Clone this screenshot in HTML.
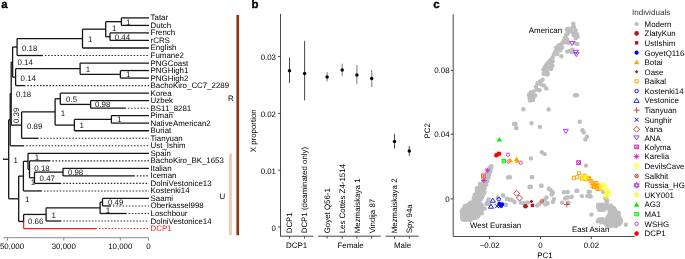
<!DOCTYPE html>
<html><head><meta charset="utf-8"><style>
html,body{margin:0;padding:0;background:#fff;}
body{width:685px;height:259px;overflow:hidden;}
svg{display:block;will-change:transform;text-rendering:geometricPrecision;font-family:"Liberation Sans",sans-serif;}
</style></head><body>
<svg width="685" height="259" viewBox="0 0 685 259">
<rect width="685" height="259" fill="#fff"/>
<line x1="121.40" y1="17.90" x2="149.00" y2="17.90" stroke="#151515" stroke-width="1.3"/>
<text x="150.60" y="20.38" font-size="7.9" fill="#000" text-anchor="start" font-weight="normal" >Tatar</text>
<line x1="121.40" y1="25.42" x2="149.00" y2="25.42" stroke="#151515" stroke-width="1.3"/>
<text x="150.60" y="27.90" font-size="7.9" fill="#000" text-anchor="start" font-weight="normal" >Dutch</text>
<line x1="110.00" y1="32.95" x2="149.00" y2="32.95" stroke="#151515" stroke-width="1.3"/>
<text x="150.60" y="35.43" font-size="7.9" fill="#000" text-anchor="start" font-weight="normal" >French</text>
<line x1="110.00" y1="40.47" x2="149.00" y2="40.47" stroke="#151515" stroke-width="1.3"/>
<text x="150.60" y="42.95" font-size="7.9" fill="#000" text-anchor="start" font-weight="normal" >rCRS</text>
<line x1="82.50" y1="47.99" x2="149.00" y2="47.99" stroke="#151515" stroke-width="1.3"/>
<text x="150.60" y="50.47" font-size="7.9" fill="#000" text-anchor="start" font-weight="normal" >English</text>
<line x1="17.10" y1="55.51" x2="42.90" y2="55.51" stroke="#151515" stroke-width="1.3"/>
<line x1="44.90" y1="55.51" x2="149.00" y2="55.51" stroke="#2a2a2a" stroke-width="1.1" stroke-dasharray="1.5 1.67"/>
<text x="150.60" y="57.99" font-size="7.9" fill="#000" text-anchor="start" font-weight="normal" >Fumane2</text>
<line x1="80.10" y1="63.04" x2="149.00" y2="63.04" stroke="#151515" stroke-width="1.3"/>
<text x="150.60" y="65.52" font-size="7.9" fill="#000" text-anchor="start" font-weight="normal" >PNGCoast</text>
<line x1="120.40" y1="70.56" x2="149.00" y2="70.56" stroke="#151515" stroke-width="1.3"/>
<text x="150.60" y="73.04" font-size="7.9" fill="#000" text-anchor="start" font-weight="normal" >PNGHigh1</text>
<line x1="120.40" y1="78.08" x2="149.00" y2="78.08" stroke="#151515" stroke-width="1.3"/>
<text x="150.60" y="80.56" font-size="7.9" fill="#000" text-anchor="start" font-weight="normal" >PNGHigh2</text>
<line x1="15.60" y1="85.61" x2="25.30" y2="85.61" stroke="#151515" stroke-width="1.3"/>
<line x1="27.30" y1="85.61" x2="149.00" y2="85.61" stroke="#2a2a2a" stroke-width="1.1" stroke-dasharray="1.5 1.67"/>
<text x="150.60" y="88.09" font-size="7.9" fill="#000" text-anchor="start" font-weight="normal" >BachoKiro_CC7_2289</text>
<line x1="60.30" y1="93.13" x2="149.00" y2="93.13" stroke="#151515" stroke-width="1.3"/>
<text x="150.60" y="95.61" font-size="7.9" fill="#000" text-anchor="start" font-weight="normal" >Korea</text>
<line x1="90.60" y1="100.65" x2="149.00" y2="100.65" stroke="#151515" stroke-width="1.3"/>
<text x="150.60" y="103.13" font-size="7.9" fill="#000" text-anchor="start" font-weight="normal" >Uzbek</text>
<line x1="90.60" y1="108.18" x2="125.90" y2="108.18" stroke="#151515" stroke-width="1.3"/>
<line x1="127.90" y1="108.18" x2="149.00" y2="108.18" stroke="#2a2a2a" stroke-width="1.1" stroke-dasharray="1.5 1.67"/>
<text x="150.60" y="110.66" font-size="7.9" fill="#000" text-anchor="start" font-weight="normal" >BS11_8281</text>
<line x1="111.40" y1="115.70" x2="149.00" y2="115.70" stroke="#151515" stroke-width="1.3"/>
<text x="150.60" y="118.18" font-size="7.9" fill="#000" text-anchor="start" font-weight="normal" >Piman</text>
<line x1="111.40" y1="123.22" x2="149.00" y2="123.22" stroke="#151515" stroke-width="1.3"/>
<text x="150.60" y="125.70" font-size="7.9" fill="#000" text-anchor="start" font-weight="normal" >NativeAmerican2</text>
<line x1="74.40" y1="130.75" x2="149.00" y2="130.75" stroke="#151515" stroke-width="1.3"/>
<text x="150.60" y="133.22" font-size="7.9" fill="#000" text-anchor="start" font-weight="normal" >Buriat</text>
<line x1="21.60" y1="138.27" x2="38.60" y2="138.27" stroke="#151515" stroke-width="1.3"/>
<line x1="40.60" y1="138.27" x2="149.00" y2="138.27" stroke="#2a2a2a" stroke-width="1.1" stroke-dasharray="1.5 1.67"/>
<text x="150.60" y="140.75" font-size="7.9" fill="#000" text-anchor="start" font-weight="normal" >Tianyuan</text>
<line x1="10.20" y1="145.79" x2="24.20" y2="145.79" stroke="#151515" stroke-width="1.3"/>
<line x1="26.20" y1="145.79" x2="149.00" y2="145.79" stroke="#2a2a2a" stroke-width="1.1" stroke-dasharray="1.5 1.67"/>
<text x="150.60" y="148.27" font-size="7.9" fill="#000" text-anchor="start" font-weight="normal" >Ust_Ishim</text>
<line x1="28.00" y1="153.31" x2="149.00" y2="153.31" stroke="#151515" stroke-width="1.3"/>
<text x="150.60" y="155.79" font-size="7.9" fill="#000" text-anchor="start" font-weight="normal" >Spain</text>
<line x1="29.50" y1="160.84" x2="50.40" y2="160.84" stroke="#151515" stroke-width="1.3"/>
<line x1="52.40" y1="160.84" x2="149.00" y2="160.84" stroke="#2a2a2a" stroke-width="1.1" stroke-dasharray="1.5 1.67"/>
<text x="150.60" y="163.32" font-size="7.9" fill="#000" text-anchor="start" font-weight="normal" >BachoKiro_BK_1653</text>
<line x1="63.00" y1="168.36" x2="149.00" y2="168.36" stroke="#151515" stroke-width="1.3"/>
<text x="150.60" y="170.84" font-size="7.9" fill="#000" text-anchor="start" font-weight="normal" >Italian</text>
<line x1="63.00" y1="175.88" x2="134.80" y2="175.88" stroke="#151515" stroke-width="1.3"/>
<line x1="136.80" y1="175.88" x2="149.00" y2="175.88" stroke="#2a2a2a" stroke-width="1.1" stroke-dasharray="1.5 1.67"/>
<text x="150.60" y="178.36" font-size="7.9" fill="#000" text-anchor="start" font-weight="normal" >Iceman</text>
<line x1="34.50" y1="183.41" x2="61.20" y2="183.41" stroke="#151515" stroke-width="1.3"/>
<line x1="63.20" y1="183.41" x2="149.00" y2="183.41" stroke="#2a2a2a" stroke-width="1.1" stroke-dasharray="1.5 1.67"/>
<text x="150.60" y="185.89" font-size="7.9" fill="#000" text-anchor="start" font-weight="normal" >DolniVestonice13</text>
<line x1="23.40" y1="190.93" x2="41.90" y2="190.93" stroke="#151515" stroke-width="1.3"/>
<line x1="43.90" y1="190.93" x2="149.00" y2="190.93" stroke="#2a2a2a" stroke-width="1.1" stroke-dasharray="1.5 1.67"/>
<text x="150.60" y="193.41" font-size="7.9" fill="#000" text-anchor="start" font-weight="normal" >Kostenki14</text>
<line x1="102.50" y1="198.45" x2="149.00" y2="198.45" stroke="#151515" stroke-width="1.3"/>
<text x="150.60" y="200.93" font-size="7.9" fill="#000" text-anchor="start" font-weight="normal" >Saami</text>
<line x1="102.50" y1="205.97" x2="111.00" y2="205.97" stroke="#151515" stroke-width="1.3"/>
<line x1="113.00" y1="205.97" x2="149.00" y2="205.97" stroke="#2a2a2a" stroke-width="1.1" stroke-dasharray="1.5 1.67"/>
<text x="150.60" y="208.45" font-size="7.9" fill="#000" text-anchor="start" font-weight="normal" >Oberkassel998</text>
<line x1="100.10" y1="213.50" x2="126.70" y2="213.50" stroke="#151515" stroke-width="1.3"/>
<line x1="128.70" y1="213.50" x2="149.00" y2="213.50" stroke="#2a2a2a" stroke-width="1.1" stroke-dasharray="1.5 1.67"/>
<text x="150.60" y="215.98" font-size="7.9" fill="#000" text-anchor="start" font-weight="normal" >Loschbour</text>
<line x1="46.10" y1="221.02" x2="61.40" y2="221.02" stroke="#151515" stroke-width="1.3"/>
<line x1="63.40" y1="221.02" x2="149.00" y2="221.02" stroke="#2a2a2a" stroke-width="1.1" stroke-dasharray="1.5 1.67"/>
<text x="150.60" y="223.50" font-size="7.9" fill="#000" text-anchor="start" font-weight="normal" >DolniVestonice14</text>
<line x1="23.60" y1="228.54" x2="96.90" y2="228.54" stroke="#f42020" stroke-width="1.3"/>
<line x1="98.90" y1="228.54" x2="149.00" y2="228.54" stroke="#f42020" stroke-width="1.1" stroke-dasharray="1.5 1.67"/>
<text x="150.60" y="231.02" font-size="7.9" fill="#f42020" text-anchor="start" font-weight="normal" >DCP1</text>
<line x1="121.40" y1="17.90" x2="121.40" y2="25.42" stroke="#151515" stroke-width="1.3"/>
<line x1="105.70" y1="21.66" x2="121.40" y2="21.66" stroke="#151515" stroke-width="1.3"/>
<line x1="110.00" y1="32.95" x2="110.00" y2="40.47" stroke="#151515" stroke-width="1.3"/>
<line x1="105.70" y1="36.71" x2="110.00" y2="36.71" stroke="#151515" stroke-width="1.3"/>
<line x1="105.70" y1="21.66" x2="105.70" y2="36.71" stroke="#151515" stroke-width="1.3"/>
<line x1="82.50" y1="29.18" x2="105.70" y2="29.18" stroke="#151515" stroke-width="1.3"/>
<line x1="82.50" y1="29.18" x2="82.50" y2="47.99" stroke="#151515" stroke-width="1.3"/>
<line x1="17.10" y1="38.59" x2="82.50" y2="38.59" stroke="#151515" stroke-width="1.3"/>
<line x1="17.10" y1="38.59" x2="17.10" y2="55.51" stroke="#151515" stroke-width="1.3"/>
<line x1="12.60" y1="47.05" x2="17.10" y2="47.05" stroke="#151515" stroke-width="1.3"/>
<line x1="120.40" y1="70.56" x2="120.40" y2="78.08" stroke="#151515" stroke-width="1.3"/>
<line x1="80.10" y1="74.32" x2="120.40" y2="74.32" stroke="#151515" stroke-width="1.3"/>
<line x1="80.10" y1="63.04" x2="80.10" y2="74.32" stroke="#151515" stroke-width="1.3"/>
<line x1="15.60" y1="68.68" x2="80.10" y2="68.68" stroke="#151515" stroke-width="1.3"/>
<line x1="15.60" y1="68.68" x2="15.60" y2="85.61" stroke="#151515" stroke-width="1.3"/>
<line x1="12.60" y1="77.14" x2="15.60" y2="77.14" stroke="#151515" stroke-width="1.3"/>
<line x1="12.60" y1="47.05" x2="12.60" y2="77.14" stroke="#151515" stroke-width="1.3"/>
<line x1="11.20" y1="62.10" x2="12.60" y2="62.10" stroke="#151515" stroke-width="1.3"/>
<line x1="90.60" y1="100.65" x2="90.60" y2="108.18" stroke="#151515" stroke-width="1.3"/>
<line x1="60.30" y1="104.41" x2="90.60" y2="104.41" stroke="#151515" stroke-width="1.3"/>
<line x1="60.30" y1="93.13" x2="60.30" y2="104.41" stroke="#151515" stroke-width="1.3"/>
<line x1="55.10" y1="98.77" x2="60.30" y2="98.77" stroke="#151515" stroke-width="1.3"/>
<line x1="111.40" y1="115.70" x2="111.40" y2="123.22" stroke="#151515" stroke-width="1.3"/>
<line x1="74.40" y1="119.46" x2="111.40" y2="119.46" stroke="#151515" stroke-width="1.3"/>
<line x1="74.40" y1="119.46" x2="74.40" y2="130.75" stroke="#151515" stroke-width="1.3"/>
<line x1="55.10" y1="125.10" x2="74.40" y2="125.10" stroke="#151515" stroke-width="1.3"/>
<line x1="55.10" y1="98.77" x2="55.10" y2="125.10" stroke="#151515" stroke-width="1.3"/>
<line x1="21.60" y1="111.94" x2="55.10" y2="111.94" stroke="#151515" stroke-width="1.3"/>
<line x1="21.60" y1="111.94" x2="21.60" y2="138.27" stroke="#151515" stroke-width="1.3"/>
<line x1="11.20" y1="125.10" x2="21.60" y2="125.10" stroke="#151515" stroke-width="1.3"/>
<line x1="11.20" y1="62.10" x2="11.20" y2="125.10" stroke="#151515" stroke-width="1.3"/>
<line x1="10.20" y1="93.60" x2="11.20" y2="93.60" stroke="#151515" stroke-width="1.3"/>
<line x1="10.20" y1="93.60" x2="10.20" y2="145.79" stroke="#151515" stroke-width="1.3"/>
<line x1="8.70" y1="119.70" x2="10.20" y2="119.70" stroke="#151515" stroke-width="1.3"/>
<line x1="63.00" y1="168.36" x2="63.00" y2="175.88" stroke="#151515" stroke-width="1.3"/>
<line x1="34.50" y1="172.12" x2="63.00" y2="172.12" stroke="#151515" stroke-width="1.3"/>
<line x1="34.50" y1="172.12" x2="34.50" y2="183.41" stroke="#151515" stroke-width="1.3"/>
<line x1="29.50" y1="177.76" x2="34.50" y2="177.76" stroke="#151515" stroke-width="1.3"/>
<line x1="29.50" y1="160.84" x2="29.50" y2="177.76" stroke="#151515" stroke-width="1.3"/>
<line x1="28.00" y1="169.30" x2="29.50" y2="169.30" stroke="#151515" stroke-width="1.3"/>
<line x1="28.00" y1="153.31" x2="28.00" y2="169.30" stroke="#151515" stroke-width="1.3"/>
<line x1="23.40" y1="161.31" x2="28.00" y2="161.31" stroke="#151515" stroke-width="1.3"/>
<line x1="23.40" y1="161.31" x2="23.40" y2="190.93" stroke="#151515" stroke-width="1.3"/>
<line x1="18.70" y1="176.12" x2="23.40" y2="176.12" stroke="#151515" stroke-width="1.3"/>
<line x1="102.50" y1="198.45" x2="102.50" y2="205.97" stroke="#151515" stroke-width="1.3"/>
<line x1="100.10" y1="202.21" x2="102.50" y2="202.21" stroke="#151515" stroke-width="1.3"/>
<line x1="100.10" y1="202.21" x2="100.10" y2="213.50" stroke="#151515" stroke-width="1.3"/>
<line x1="46.10" y1="207.86" x2="100.10" y2="207.86" stroke="#151515" stroke-width="1.3"/>
<line x1="46.10" y1="207.86" x2="46.10" y2="221.02" stroke="#151515" stroke-width="1.3"/>
<line x1="23.60" y1="214.44" x2="46.10" y2="214.44" stroke="#151515" stroke-width="1.3"/>
<line x1="23.60" y1="214.44" x2="23.60" y2="221.49" stroke="#151515" stroke-width="1.3"/>
<line x1="23.60" y1="221.49" x2="23.60" y2="228.54" stroke="#f42020" stroke-width="1.3"/>
<line x1="18.70" y1="221.49" x2="23.60" y2="221.49" stroke="#151515" stroke-width="1.3"/>
<line x1="18.70" y1="176.12" x2="18.70" y2="221.49" stroke="#151515" stroke-width="1.3"/>
<line x1="8.70" y1="198.80" x2="18.70" y2="198.80" stroke="#151515" stroke-width="1.3"/>
<line x1="8.70" y1="119.70" x2="8.70" y2="198.80" stroke="#151515" stroke-width="1.3"/>
<line x1="2.90" y1="159.25" x2="8.70" y2="159.25" stroke="#151515" stroke-width="1.3"/>
<text x="126.00" y="24.78" font-size="7.9" fill="#111" text-anchor="start" font-weight="normal" >1</text>
<text x="112.00" y="30.78" font-size="7.9" fill="#111" text-anchor="start" font-weight="normal" >1</text>
<text x="114.70" y="39.68" font-size="7.9" fill="#111" text-anchor="start" font-weight="normal" >0.44</text>
<text x="87.90" y="42.08" font-size="7.9" fill="#111" text-anchor="start" font-weight="normal" >1</text>
<text x="22.00" y="50.58" font-size="7.9" fill="#111" text-anchor="start" font-weight="normal" >0.18</text>
<text x="17.50" y="65.28" font-size="7.9" fill="#111" text-anchor="start" font-weight="normal" >0.14</text>
<text x="85.70" y="72.08" font-size="7.9" fill="#111" text-anchor="start" font-weight="normal" >1</text>
<text x="126.00" y="77.18" font-size="7.9" fill="#111" text-anchor="start" font-weight="normal" >1</text>
<text x="20.60" y="80.68" font-size="7.9" fill="#111" text-anchor="start" font-weight="normal" >0.14</text>
<text x="15.90" y="97.38" font-size="7.9" fill="#111" text-anchor="start" font-weight="normal" >0.18</text>
<text x="66.10" y="101.68" font-size="7.9" fill="#111" text-anchor="start" font-weight="normal" >0.5</text>
<text x="95.00" y="107.08" font-size="7.9" fill="#111" text-anchor="start" font-weight="normal" >0.98</text>
<text x="60.80" y="115.78" font-size="7.9" fill="#111" text-anchor="start" font-weight="normal" >1</text>
<text x="117.20" y="122.48" font-size="7.9" fill="#111" text-anchor="start" font-weight="normal" >1</text>
<text x="79.60" y="128.28" font-size="7.9" fill="#111" text-anchor="start" font-weight="normal" >1</text>
<text x="27.00" y="128.78" font-size="7.9" fill="#111" text-anchor="start" font-weight="normal" >0.89</text>
<text x="13.50" y="162.78" font-size="7.9" fill="#111" text-anchor="start" font-weight="normal" >1</text>
<text x="34.70" y="160.08" font-size="7.9" fill="#111" text-anchor="start" font-weight="normal" >1</text>
<text x="34.30" y="171.28" font-size="7.9" fill="#111" text-anchor="start" font-weight="normal" >0.18</text>
<text x="67.90" y="174.78" font-size="7.9" fill="#111" text-anchor="start" font-weight="normal" >0.98</text>
<text x="39.60" y="180.98" font-size="7.9" fill="#111" text-anchor="start" font-weight="normal" >0.47</text>
<text x="30.80" y="185.18" font-size="7.9" fill="#111" text-anchor="start" font-weight="normal" >1</text>
<text x="25.10" y="202.28" font-size="7.9" fill="#111" text-anchor="start" font-weight="normal" >1</text>
<text x="108.00" y="205.08" font-size="7.9" fill="#111" text-anchor="start" font-weight="normal" >0.49</text>
<text x="105.70" y="212.88" font-size="7.9" fill="#111" text-anchor="start" font-weight="normal" >1</text>
<text x="51.40" y="218.18" font-size="7.9" fill="#111" text-anchor="start" font-weight="normal" >1</text>
<text x="28.00" y="224.48" font-size="7.9" fill="#111" text-anchor="start" font-weight="normal" >0.66</text>
<text x="0" y="0" font-size="7.9" fill="#111" text-anchor="middle" transform="translate(19.18,115.3) rotate(-90)">0.39</text>
<rect x="236.4" y="14.9" width="2.7" height="220.3" fill="#8a3a0e"/>
<rect x="229.1" y="153.7" width="2.7" height="81.5" fill="#f6c6a8"/>
<text x="228.00" y="100.58" font-size="7.9" fill="#000" text-anchor="start" font-weight="normal" >R</text>
<text x="219.50" y="198.88" font-size="7.9" fill="#000" text-anchor="start" font-weight="normal" >U</text>
<line x1="3.3" y1="237.7" x2="148.7" y2="237.7" stroke="#8a8a8a" stroke-width="1"/>
<line x1="7.5" y1="237.7" x2="7.5" y2="240.6" stroke="#8a8a8a" stroke-width="1"/>
<line x1="63.8" y1="237.7" x2="63.8" y2="240.6" stroke="#8a8a8a" stroke-width="1"/>
<line x1="120.3" y1="237.7" x2="120.3" y2="240.6" stroke="#8a8a8a" stroke-width="1"/>
<line x1="148.5" y1="237.7" x2="148.5" y2="240.6" stroke="#8a8a8a" stroke-width="1"/>
<text x="12.00" y="249.28" font-size="7.9" fill="#000" text-anchor="middle" font-weight="normal" >50,000</text>
<text x="63.80" y="249.28" font-size="7.9" fill="#000" text-anchor="middle" font-weight="normal" >30,000</text>
<text x="120.30" y="249.28" font-size="7.9" fill="#000" text-anchor="middle" font-weight="normal" >10,000</text>
<text x="148.50" y="249.28" font-size="7.9" fill="#000" text-anchor="middle" font-weight="normal" >0</text>
<text x="1.3" y="7.8" font-size="11.5" font-weight="bold" fill="#000" stroke="#000" stroke-width="0.35">a</text>
<text x="251.5" y="7.8" font-size="11.5" font-weight="bold" fill="#000" stroke="#000" stroke-width="0.35">b</text>
<line x1="280.5" y1="13.9" x2="280.5" y2="236.2" stroke="#333" stroke-width="0.9"/>
<line x1="278.0" y1="56.60" x2="280.5" y2="56.60" stroke="#333" stroke-width="0.9"/>
<text x="276.00" y="60.18" font-size="7.9" fill="#000" text-anchor="end" font-weight="normal" >0.03</text>
<line x1="278.0" y1="113.40" x2="280.5" y2="113.40" stroke="#333" stroke-width="0.9"/>
<text x="276.00" y="116.98" font-size="7.9" fill="#000" text-anchor="end" font-weight="normal" >0.02</text>
<line x1="278.0" y1="170.20" x2="280.5" y2="170.20" stroke="#333" stroke-width="0.9"/>
<text x="276.00" y="173.78" font-size="7.9" fill="#000" text-anchor="end" font-weight="normal" >0.01</text>
<line x1="278.0" y1="227.00" x2="280.5" y2="227.00" stroke="#333" stroke-width="0.9"/>
<text x="276.00" y="230.58" font-size="7.9" fill="#000" text-anchor="end" font-weight="normal" >0</text>
<text x="0" y="0" font-size="7.9" fill="#000" text-anchor="middle" transform="translate(256.38,130.8) rotate(-90)">X proportion</text>
<line x1="289.5" y1="57.6" x2="289.5" y2="83.0" stroke="#333" stroke-width="0.9"/>
<circle cx="289.5" cy="70.7" r="1.75" fill="#0a0a0a"/>
<line x1="304.6" y1="40.9" x2="304.6" y2="100.4" stroke="#333" stroke-width="0.9"/>
<circle cx="304.6" cy="73.5" r="1.75" fill="#0a0a0a"/>
<line x1="327.1" y1="72.0" x2="327.1" y2="81.6" stroke="#999" stroke-width="1.3"/>
<circle cx="327.1" cy="77.0" r="1.75" fill="#0a0a0a"/>
<line x1="342.2" y1="63.7" x2="342.2" y2="76.2" stroke="#999" stroke-width="1.3"/>
<circle cx="342.2" cy="70.1" r="1.75" fill="#0a0a0a"/>
<line x1="356.9" y1="65.0" x2="356.9" y2="84.3" stroke="#999" stroke-width="1.3"/>
<circle cx="356.9" cy="74.9" r="1.75" fill="#0a0a0a"/>
<line x1="371.7" y1="69.9" x2="371.7" y2="86.9" stroke="#999" stroke-width="1.3"/>
<circle cx="371.7" cy="78.6" r="1.75" fill="#0a0a0a"/>
<line x1="394.5" y1="133.9" x2="394.5" y2="148.6" stroke="#333" stroke-width="0.9"/>
<circle cx="394.5" cy="141.6" r="1.75" fill="#0a0a0a"/>
<line x1="409.3" y1="146.1" x2="409.3" y2="155.7" stroke="#333" stroke-width="0.9"/>
<circle cx="409.3" cy="150.9" r="1.75" fill="#0a0a0a"/>
<text x="0" y="0" font-size="7.9" fill="#000" text-anchor="start" transform="translate(292.38,233.3) rotate(-90)">DCP1</text>
<text x="0" y="0" font-size="7.9" fill="#000" text-anchor="start" transform="translate(307.48,233.3) rotate(-90)">DCP1 (deaminated only)</text>
<text x="0" y="0" font-size="7.9" fill="#000" text-anchor="start" transform="translate(329.98,233.3) rotate(-90)">Goyet Q56-1</text>
<text x="0" y="0" font-size="7.9" fill="#000" text-anchor="start" transform="translate(345.08,233.3) rotate(-90)">Les Cottés Z4-1514</text>
<text x="0" y="0" font-size="7.9" fill="#000" text-anchor="start" transform="translate(359.78,233.3) rotate(-90)">Mezmaiskaya 1</text>
<text x="0" y="0" font-size="7.9" fill="#000" text-anchor="start" transform="translate(374.58,233.3) rotate(-90)">Vindija 87</text>
<text x="0" y="0" font-size="7.9" fill="#000" text-anchor="start" transform="translate(397.38,233.3) rotate(-90)">Mezmaiskaya 2</text>
<text x="0" y="0" font-size="7.9" fill="#000" text-anchor="start" transform="translate(412.18,233.3) rotate(-90)">Spy 94a</text>
<line x1="280.3" y1="236.2" x2="313.3" y2="236.2" stroke="#333" stroke-width="0.9"/>
<line x1="289.5" y1="236.2" x2="289.5" y2="238.6" stroke="#333" stroke-width="0.9"/>
<line x1="304.6" y1="236.2" x2="304.6" y2="238.6" stroke="#333" stroke-width="0.9"/>
<text x="296.60" y="248.18" font-size="7.9" fill="#000" text-anchor="middle" font-weight="normal" >DCP1</text>
<line x1="318.2" y1="236.2" x2="380.8" y2="236.2" stroke="#333" stroke-width="0.9"/>
<line x1="327.1" y1="236.2" x2="327.1" y2="238.6" stroke="#333" stroke-width="0.9"/>
<line x1="342.2" y1="236.2" x2="342.2" y2="238.6" stroke="#333" stroke-width="0.9"/>
<line x1="356.9" y1="236.2" x2="356.9" y2="238.6" stroke="#333" stroke-width="0.9"/>
<line x1="371.7" y1="236.2" x2="371.7" y2="238.6" stroke="#333" stroke-width="0.9"/>
<text x="350.60" y="248.18" font-size="7.9" fill="#000" text-anchor="middle" font-weight="normal" >Female</text>
<line x1="385.6" y1="236.2" x2="418.6" y2="236.2" stroke="#333" stroke-width="0.9"/>
<line x1="394.5" y1="236.2" x2="394.5" y2="238.6" stroke="#333" stroke-width="0.9"/>
<line x1="409.3" y1="236.2" x2="409.3" y2="238.6" stroke="#333" stroke-width="0.9"/>
<text x="402.60" y="248.18" font-size="7.9" fill="#000" text-anchor="middle" font-weight="normal" >Male</text>
<text x="433.3" y="7.6" font-size="11.5" font-weight="bold" fill="#000" stroke="#000" stroke-width="0.35">c</text>
<line x1="453.2" y1="14.3" x2="453.2" y2="236.5" stroke="#333" stroke-width="0.9"/>
<line x1="453.2" y1="236.5" x2="634.7" y2="236.5" stroke="#333" stroke-width="0.9"/>
<line x1="450.6" y1="70.4" x2="453.2" y2="70.4" stroke="#333" stroke-width="0.9"/>
<text x="449.60" y="73.28" font-size="7.9" fill="#000" text-anchor="end" font-weight="normal" >0.08</text>
<line x1="450.6" y1="134.3" x2="453.2" y2="134.3" stroke="#333" stroke-width="0.9"/>
<text x="449.60" y="137.18" font-size="7.9" fill="#000" text-anchor="end" font-weight="normal" >0.04</text>
<line x1="450.6" y1="198.9" x2="453.2" y2="198.9" stroke="#333" stroke-width="0.9"/>
<text x="449.60" y="201.78" font-size="7.9" fill="#000" text-anchor="end" font-weight="normal" >0</text>
<line x1="489.7" y1="236.5" x2="489.7" y2="239.0" stroke="#333" stroke-width="0.9"/>
<text x="489.70" y="248.08" font-size="7.9" fill="#000" text-anchor="middle" font-weight="normal" >−0.02</text>
<line x1="540.5" y1="236.5" x2="540.5" y2="239.0" stroke="#333" stroke-width="0.9"/>
<text x="540.50" y="248.08" font-size="7.9" fill="#000" text-anchor="middle" font-weight="normal" >0</text>
<line x1="591.4" y1="236.5" x2="591.4" y2="239.0" stroke="#333" stroke-width="0.9"/>
<text x="591.40" y="248.08" font-size="7.9" fill="#000" text-anchor="middle" font-weight="normal" >0.02</text>
<text x="545.00" y="258.48" font-size="7.9" fill="#000" text-anchor="middle" font-weight="normal" >PC1</text>
<text x="0" y="0" font-size="7.9" fill="#000" text-anchor="middle" transform="translate(429.58,130.8) rotate(-90)">PC2</text>
<text x="528.80" y="32.88" font-size="7.9" fill="#000" text-anchor="start" font-weight="normal" >American</text>
<text x="470.00" y="227.78" font-size="7.9" fill="#000" text-anchor="start" font-weight="normal" >West Eurasian</text>
<text x="572.00" y="232.08" font-size="7.9" fill="#000" text-anchor="start" font-weight="normal" >East Asian</text>
<defs><filter id="bl" x="-5%" y="-5%" width="110%" height="110%"><feGaussianBlur stdDeviation="0.35"/></filter></defs>
<g fill="#bebebe" filter="url(#bl)">
<circle cx="573.3" cy="23.8" r="2.2"/>
<circle cx="572.6" cy="27.5" r="2.2"/>
<circle cx="567" cy="29.5" r="2.2"/>
<circle cx="570.1" cy="30" r="2.2"/>
<circle cx="575.6" cy="30.5" r="2.2"/>
<circle cx="568" cy="32.5" r="2.2"/>
<circle cx="572.1" cy="32" r="2.2"/>
<circle cx="577.1" cy="34.1" r="2.2"/>
<circle cx="566" cy="35.1" r="2.2"/>
<circle cx="573.6" cy="35.1" r="2.2"/>
<circle cx="577.6" cy="36.6" r="2.2"/>
<circle cx="575.6" cy="38.1" r="2.2"/>
<circle cx="565" cy="37.6" r="2.2"/>
<circle cx="564" cy="40.1" r="2.2"/>
<circle cx="567" cy="39.1" r="2.2"/>
<circle cx="562.5" cy="42.6" r="2.2"/>
<circle cx="565.5" cy="42.1" r="2.2"/>
<circle cx="560.5" cy="44.6" r="2.2"/>
<circle cx="577.6" cy="44.1" r="2.2"/>
<circle cx="568.5" cy="43.1" r="2.2"/>
<circle cx="574.0" cy="27.0" r="2.2"/>
<circle cx="568.5" cy="28.8" r="2.2"/>
<circle cx="574.5" cy="33.5" r="2.2"/>
<circle cx="567.3" cy="34.0" r="2.2"/>
<circle cx="565.5" cy="40.6" r="2.2"/>
<circle cx="567.8" cy="41.7" r="2.2"/>
<circle cx="562.6" cy="42.9" r="2.2"/>
<circle cx="560.3" cy="45.2" r="2.2"/>
<circle cx="558.5" cy="47.5" r="2.2"/>
<circle cx="556.8" cy="49.8" r="2.2"/>
<circle cx="560.3" cy="50.4" r="2.2"/>
<circle cx="555.1" cy="52.2" r="2.2"/>
<circle cx="553.9" cy="54.5" r="2.2"/>
<circle cx="557.4" cy="53.9" r="2.2"/>
<circle cx="561.4" cy="56.2" r="2.2"/>
<circle cx="552.7" cy="57.4" r="2.2"/>
<circle cx="551" cy="59.7" r="2.2"/>
<circle cx="549.3" cy="61.4" r="2.2"/>
<circle cx="552.7" cy="61.4" r="2.2"/>
<circle cx="547.5" cy="63.2" r="2.2"/>
<circle cx="551" cy="64.3" r="2.2"/>
<circle cx="545.8" cy="65.5" r="2.2"/>
<circle cx="544.6" cy="67.8" r="2.2"/>
<circle cx="548.7" cy="67.8" r="2.2"/>
<circle cx="543.5" cy="69.5" r="2.2"/>
<circle cx="551" cy="69" r="2.2"/>
<circle cx="567.2" cy="51.6" r="2.2"/>
<circle cx="569.5" cy="51" r="2.2"/>
<circle cx="572.4" cy="49.8" r="2.2"/>
<circle cx="571.9" cy="52.2" r="2.2"/>
<circle cx="577.1" cy="44.1" r="2.2"/>
<circle cx="574.8" cy="42.9" r="2.2"/>
<circle cx="558.5" cy="45.5" r="2.2"/>
<circle cx="556.0" cy="48.0" r="2.2"/>
<circle cx="562.0" cy="47.5" r="2.2"/>
<circle cx="552.4" cy="65.7" r="2.2"/>
<circle cx="549.7" cy="67.7" r="2.2"/>
<circle cx="547" cy="69.7" r="2.2"/>
<circle cx="545" cy="71.8" r="2.2"/>
<circle cx="543.6" cy="73.8" r="2.2"/>
<circle cx="547.7" cy="73.1" r="2.2"/>
<circle cx="545.1" cy="74" r="2.2"/>
<circle cx="547.5" cy="74.6" r="2.2"/>
<circle cx="542.6" cy="79.8" r="2.2"/>
<circle cx="539.9" cy="81.5" r="2.2"/>
<circle cx="537.6" cy="83.3" r="2.2"/>
<circle cx="541.1" cy="84.4" r="2.2"/>
<circle cx="544" cy="85.6" r="2.2"/>
<circle cx="546.3" cy="88.5" r="2.2"/>
<circle cx="535.9" cy="86.7" r="2.2"/>
<circle cx="537" cy="89.6" r="2.2"/>
<circle cx="539.4" cy="90.2" r="2.2"/>
<circle cx="533.6" cy="91.4" r="2.2"/>
<circle cx="530.7" cy="92.5" r="2.2"/>
<circle cx="528.9" cy="94.8" r="2.2"/>
<circle cx="532.4" cy="94.3" r="2.2"/>
<circle cx="529.5" cy="97.7" r="2.2"/>
<circle cx="533.6" cy="97.1" r="2.2"/>
<circle cx="530.1" cy="100.6" r="2.2"/>
<circle cx="533" cy="100" r="2.2"/>
<circle cx="535.3" cy="95.4" r="2.2"/>
<circle cx="531.0" cy="96.0" r="2.2"/>
<circle cx="575.0" cy="95.3" r="2.2"/>
<circle cx="577.0" cy="95.3" r="2.2"/>
<circle cx="523.3" cy="109.3" r="2.2"/>
<circle cx="548.6" cy="109.5" r="2.2"/>
<circle cx="531.6" cy="123.2" r="2.2"/>
<circle cx="539.9" cy="126.9" r="2.2"/>
<circle cx="515.6" cy="123.8" r="2.2"/>
<circle cx="516.2" cy="127.8" r="2.2"/>
<circle cx="514.0" cy="123.9" r="2.2"/>
<circle cx="516.3" cy="128.1" r="2.2"/>
<circle cx="579.7" cy="121.8" r="2.2"/>
<circle cx="582.5" cy="130.3" r="2.2"/>
<circle cx="583.8" cy="132.4" r="2.2"/>
<circle cx="587" cy="136.7" r="2.2"/>
<circle cx="585.3" cy="139.4" r="2.2"/>
<circle cx="530.9" cy="158.4" r="2.2"/>
<circle cx="541.9" cy="152.2" r="2.2"/>
<circle cx="544.7" cy="154.1" r="2.2"/>
<circle cx="532.2" cy="177.3" r="2.2"/>
<circle cx="510" cy="177.3" r="2.2"/>
<circle cx="490.3" cy="167.3" r="2.2"/>
<circle cx="507.9" cy="177.4" r="2.2"/>
<circle cx="586.0" cy="165.6" r="2.2"/>
<circle cx="531.9" cy="177.0" r="2.2"/>
<circle cx="531" cy="186.7" r="2.2"/>
<circle cx="541.6" cy="185.7" r="2.2"/>
<circle cx="529.9" cy="187.2" r="2.2"/>
<circle cx="541.2" cy="185.8" r="2.2"/>
<circle cx="591.4" cy="214.6" r="2.2"/>
<circle cx="625.8" cy="224.7" r="2.2"/>
<circle cx="590.7" cy="196.4" r="2.2"/>
<circle cx="548.8" cy="188.7" r="2.2"/>
<circle cx="551.1" cy="190.4" r="2.2"/>
<circle cx="552.8" cy="192.8" r="2.2"/>
<circle cx="551.7" cy="194.5" r="2.2"/>
<circle cx="546.5" cy="197.4" r="2.2"/>
<circle cx="544.7" cy="199.7" r="2.2"/>
<circle cx="554" cy="199.1" r="2.2"/>
<circle cx="552.8" cy="202" r="2.2"/>
<circle cx="547.6" cy="203.2" r="2.2"/>
<circle cx="545.3" cy="204.4" r="2.2"/>
<circle cx="538.9" cy="204.4" r="2.2"/>
<circle cx="537.2" cy="205.5" r="2.2"/>
<circle cx="526.7" cy="202.6" r="2.2"/>
<circle cx="563.9" cy="192.2" r="2.2"/>
<circle cx="565" cy="198.6" r="2.2"/>
<circle cx="562.1" cy="202.6" r="2.2"/>
<circle cx="567.9" cy="197.4" r="2.2"/>
<circle cx="568.5" cy="202.6" r="2.2"/>
<circle cx="503.2" cy="195.6" r="2.2"/>
<circle cx="507.5" cy="199.1" r="2.2"/>
<circle cx="511.6" cy="199.7" r="2.2"/>
<circle cx="514.5" cy="202" r="2.2"/>
<circle cx="505.8" cy="204.9" r="2.2"/>
<circle cx="520.9" cy="202.6" r="2.2"/>
<circle cx="523.2" cy="203.2" r="2.2"/>
<circle cx="527.8" cy="202.6" r="2.2"/>
<circle cx="529.5" cy="187" r="2.2"/>
<circle cx="484.5" cy="191.9" r="2.2"/>
<circle cx="487.7" cy="201.6" r="2.2"/>
<circle cx="489.1" cy="203.9" r="2.2"/>
<circle cx="503" cy="195.1" r="2.2"/>
<circle cx="497.9" cy="197.4" r="2.2"/>
<circle cx="506.7" cy="198.8" r="2.2"/>
<circle cx="510" cy="199.7" r="2.2"/>
<circle cx="505.8" cy="204.8" r="2.2"/>
<circle cx="484.5" cy="208.5" r="2.2"/>
<circle cx="486.3" cy="203.9" r="2.2"/>
<circle cx="488.5" cy="199.5" r="2.2"/>
<circle cx="577.2" cy="190.7" r="2.2"/>
<circle cx="567.7" cy="192" r="2.2"/>
<circle cx="581.9" cy="196.1" r="2.2"/>
<circle cx="588.6" cy="192" r="2.2"/>
<circle cx="587.3" cy="196.1" r="2.2"/>
<circle cx="571.8" cy="196.8" r="2.2"/>
<circle cx="566.4" cy="197.4" r="2.2"/>
<circle cx="589.7" cy="191.7" r="2.2"/>
<circle cx="589.7" cy="196.3" r="2.2"/>
<circle cx="603" cy="191.7" r="2.2"/>
<circle cx="605.4" cy="198.6" r="2.2"/>
<circle cx="607.1" cy="200.4" r="2.2"/>
<circle cx="576.4" cy="191.0" r="2.2"/>
<circle cx="491.4" cy="166.1" r="2.2"/>
<circle cx="490.8" cy="168.9" r="2.2"/>
<circle cx="490.3" cy="171.8" r="2.2"/>
<circle cx="489.1" cy="174.7" r="2.2"/>
<circle cx="488.5" cy="177.6" r="2.2"/>
<circle cx="486.2" cy="179.4" r="2.2"/>
<circle cx="487.4" cy="181.1" r="2.2"/>
<circle cx="485" cy="182.8" r="2.2"/>
<circle cx="482.7" cy="184.6" r="2.2"/>
<circle cx="486.2" cy="184.6" r="2.2"/>
<circle cx="481" cy="186.9" r="2.2"/>
<circle cx="484.5" cy="186.9" r="2.2"/>
<circle cx="479.3" cy="189.2" r="2.2"/>
<circle cx="482.7" cy="189.2" r="2.2"/>
<circle cx="477.5" cy="190.9" r="2.2"/>
<circle cx="481.6" cy="191.5" r="2.2"/>
<circle cx="488.0" cy="170.5" r="2.2"/>
<circle cx="486.8" cy="174.0" r="2.2"/>
<circle cx="485.5" cy="177.0" r="2.2"/>
<circle cx="483.5" cy="180.5" r="2.2"/>
<circle cx="480.0" cy="184.0" r="2.2"/>
<circle cx="477.0" cy="188.3" r="2.2"/>
<circle cx="479.0" cy="188.3" r="2.2"/>
<circle cx="481.1" cy="187.9" r="2.2"/>
<circle cx="482.5" cy="188.5" r="2.2"/>
<circle cx="484.6" cy="188.0" r="2.2"/>
<circle cx="476.7" cy="189.9" r="2.2"/>
<circle cx="478.4" cy="189.9" r="2.2"/>
<circle cx="480.2" cy="189.6" r="2.2"/>
<circle cx="482.1" cy="190.2" r="2.2"/>
<circle cx="483.9" cy="190.1" r="2.2"/>
<circle cx="477.3" cy="191.2" r="2.2"/>
<circle cx="479.3" cy="191.6" r="2.2"/>
<circle cx="480.9" cy="191.2" r="2.2"/>
<circle cx="483.2" cy="191.5" r="2.2"/>
<circle cx="476.4" cy="193.5" r="2.2"/>
<circle cx="478.3" cy="193.5" r="2.2"/>
<circle cx="480.0" cy="193.4" r="2.2"/>
<circle cx="481.9" cy="193.5" r="2.2"/>
<circle cx="484.2" cy="192.9" r="2.2"/>
<circle cx="475.0" cy="194.6" r="2.2"/>
<circle cx="477.6" cy="194.8" r="2.2"/>
<circle cx="479.2" cy="194.7" r="2.2"/>
<circle cx="481.0" cy="194.7" r="2.2"/>
<circle cx="482.8" cy="194.9" r="2.2"/>
<circle cx="474.4" cy="196.8" r="2.2"/>
<circle cx="476.4" cy="196.8" r="2.2"/>
<circle cx="478.4" cy="196.9" r="2.2"/>
<circle cx="480.2" cy="196.2" r="2.2"/>
<circle cx="482.2" cy="196.9" r="2.2"/>
<circle cx="473.7" cy="198.2" r="2.2"/>
<circle cx="475.5" cy="197.9" r="2.2"/>
<circle cx="477.5" cy="198.2" r="2.2"/>
<circle cx="478.9" cy="197.8" r="2.2"/>
<circle cx="481.3" cy="198.5" r="2.2"/>
<circle cx="474.0" cy="200.0" r="2.2"/>
<circle cx="476.2" cy="199.5" r="2.2"/>
<circle cx="478.0" cy="200.0" r="2.2"/>
<circle cx="480.4" cy="199.4" r="2.2"/>
<circle cx="473.5" cy="201.1" r="2.2"/>
<circle cx="475.5" cy="201.3" r="2.2"/>
<circle cx="477.5" cy="201.8" r="2.2"/>
<circle cx="479.1" cy="201.9" r="2.2"/>
<circle cx="470.4" cy="202.8" r="2.2"/>
<circle cx="472.5" cy="202.7" r="2.2"/>
<circle cx="474.1" cy="203.0" r="2.2"/>
<circle cx="476.3" cy="202.8" r="2.2"/>
<circle cx="477.8" cy="203.4" r="2.2"/>
<circle cx="479.9" cy="203.5" r="2.2"/>
<circle cx="468.0" cy="204.7" r="2.2"/>
<circle cx="469.6" cy="204.8" r="2.2"/>
<circle cx="471.6" cy="204.8" r="2.2"/>
<circle cx="473.5" cy="204.9" r="2.2"/>
<circle cx="475.7" cy="204.8" r="2.2"/>
<circle cx="477.2" cy="204.9" r="2.2"/>
<circle cx="478.9" cy="204.6" r="2.2"/>
<circle cx="481.4" cy="204.8" r="2.2"/>
<circle cx="464.9" cy="206.0" r="2.2"/>
<circle cx="466.7" cy="206.5" r="2.2"/>
<circle cx="468.3" cy="206.5" r="2.2"/>
<circle cx="470.7" cy="206.1" r="2.2"/>
<circle cx="472.6" cy="206.4" r="2.2"/>
<circle cx="474.5" cy="206.3" r="2.2"/>
<circle cx="476.4" cy="206.6" r="2.2"/>
<circle cx="477.8" cy="206.1" r="2.2"/>
<circle cx="480.2" cy="206.8" r="2.2"/>
<circle cx="481.8" cy="206.4" r="2.2"/>
<circle cx="464.0" cy="207.9" r="2.2"/>
<circle cx="465.7" cy="207.9" r="2.2"/>
<circle cx="467.6" cy="208.1" r="2.2"/>
<circle cx="469.5" cy="208.0" r="2.2"/>
<circle cx="471.7" cy="207.7" r="2.2"/>
<circle cx="473.5" cy="208.3" r="2.2"/>
<circle cx="475.2" cy="207.8" r="2.2"/>
<circle cx="477.5" cy="207.9" r="2.2"/>
<circle cx="478.9" cy="208.0" r="2.2"/>
<circle cx="481.2" cy="207.7" r="2.2"/>
<circle cx="462.8" cy="209.6" r="2.2"/>
<circle cx="465.1" cy="209.7" r="2.2"/>
<circle cx="467.0" cy="209.5" r="2.2"/>
<circle cx="468.5" cy="209.8" r="2.2"/>
<circle cx="470.9" cy="209.7" r="2.2"/>
<circle cx="472.2" cy="209.4" r="2.2"/>
<circle cx="474.4" cy="209.5" r="2.2"/>
<circle cx="476.5" cy="210.0" r="2.2"/>
<circle cx="477.9" cy="209.5" r="2.2"/>
<circle cx="480.3" cy="209.8" r="2.2"/>
<circle cx="482.2" cy="209.6" r="2.2"/>
<circle cx="461.7" cy="211.2" r="2.2"/>
<circle cx="464.1" cy="211.2" r="2.2"/>
<circle cx="465.7" cy="211.3" r="2.2"/>
<circle cx="467.6" cy="211.3" r="2.2"/>
<circle cx="469.9" cy="211.1" r="2.2"/>
<circle cx="471.1" cy="211.7" r="2.2"/>
<circle cx="473.7" cy="211.8" r="2.2"/>
<circle cx="475.3" cy="211.7" r="2.2"/>
<circle cx="477.6" cy="211.1" r="2.2"/>
<circle cx="479.3" cy="211.6" r="2.2"/>
<circle cx="481.1" cy="211.4" r="2.2"/>
<circle cx="462.8" cy="212.9" r="2.2"/>
<circle cx="464.6" cy="212.7" r="2.2"/>
<circle cx="466.8" cy="212.9" r="2.2"/>
<circle cx="468.9" cy="212.7" r="2.2"/>
<circle cx="470.9" cy="213.2" r="2.2"/>
<circle cx="472.8" cy="213.3" r="2.2"/>
<circle cx="474.7" cy="213.1" r="2.2"/>
<circle cx="475.9" cy="213.2" r="2.2"/>
<circle cx="477.9" cy="212.9" r="2.2"/>
<circle cx="480.2" cy="213.0" r="2.2"/>
<circle cx="481.9" cy="213.4" r="2.2"/>
<circle cx="462.1" cy="214.5" r="2.2"/>
<circle cx="463.7" cy="215.0" r="2.2"/>
<circle cx="465.8" cy="214.9" r="2.2"/>
<circle cx="467.6" cy="214.4" r="2.2"/>
<circle cx="469.6" cy="214.9" r="2.2"/>
<circle cx="471.2" cy="214.9" r="2.2"/>
<circle cx="473.7" cy="214.9" r="2.2"/>
<circle cx="475.6" cy="214.3" r="2.2"/>
<circle cx="477.3" cy="215.0" r="2.2"/>
<circle cx="478.7" cy="214.5" r="2.2"/>
<circle cx="462.8" cy="216.4" r="2.2"/>
<circle cx="464.8" cy="216.3" r="2.2"/>
<circle cx="467.0" cy="215.9" r="2.2"/>
<circle cx="468.3" cy="216.0" r="2.2"/>
<circle cx="470.3" cy="216.0" r="2.2"/>
<circle cx="472.8" cy="216.6" r="2.2"/>
<circle cx="474.0" cy="216.3" r="2.2"/>
<circle cx="476.1" cy="216.2" r="2.2"/>
<circle cx="478.0" cy="216.4" r="2.2"/>
<circle cx="462.1" cy="217.9" r="2.2"/>
<circle cx="463.7" cy="217.8" r="2.2"/>
<circle cx="465.5" cy="218.0" r="2.2"/>
<circle cx="467.9" cy="217.9" r="2.2"/>
<circle cx="469.3" cy="217.7" r="2.2"/>
<circle cx="471.4" cy="218.1" r="2.2"/>
<circle cx="473.6" cy="217.9" r="2.2"/>
<circle cx="475.6" cy="218.1" r="2.2"/>
<circle cx="462.9" cy="219.5" r="2.2"/>
<circle cx="464.9" cy="219.8" r="2.2"/>
<circle cx="466.7" cy="219.8" r="2.2"/>
<circle cx="468.6" cy="219.4" r="2.2"/>
<circle cx="470.6" cy="219.8" r="2.2"/>
<circle cx="598.3" cy="204.6" r="2.2"/>
<circle cx="600.5" cy="205.0" r="2.2"/>
<circle cx="602.8" cy="204.6" r="2.2"/>
<circle cx="604.7" cy="204.9" r="2.2"/>
<circle cx="606.1" cy="204.7" r="2.2"/>
<circle cx="599.3" cy="206.6" r="2.2"/>
<circle cx="601.6" cy="206.7" r="2.2"/>
<circle cx="603.6" cy="206.5" r="2.2"/>
<circle cx="605.5" cy="206.4" r="2.2"/>
<circle cx="606.9" cy="206.4" r="2.2"/>
<circle cx="598.3" cy="207.7" r="2.2"/>
<circle cx="600.8" cy="207.6" r="2.2"/>
<circle cx="602.1" cy="207.7" r="2.2"/>
<circle cx="604.7" cy="207.7" r="2.2"/>
<circle cx="605.9" cy="208.3" r="2.2"/>
<circle cx="599.3" cy="209.9" r="2.2"/>
<circle cx="601.6" cy="209.9" r="2.2"/>
<circle cx="603.8" cy="209.7" r="2.2"/>
<circle cx="610.9" cy="205.6" r="2.2"/>
<circle cx="609.9" cy="207.6" r="2.2"/>
<circle cx="611.7" cy="207.3" r="2.2"/>
<circle cx="613.7" cy="207.9" r="2.2"/>
<circle cx="610.3" cy="209.1" r="2.2"/>
<circle cx="612.6" cy="209.5" r="2.2"/>
<circle cx="614.2" cy="209.0" r="2.2"/>
<circle cx="609.5" cy="211.0" r="2.2"/>
<circle cx="611.8" cy="210.8" r="2.2"/>
<circle cx="613.4" cy="210.8" r="2.2"/>
<circle cx="615.3" cy="210.8" r="2.2"/>
<circle cx="610.3" cy="212.6" r="2.2"/>
<circle cx="612.9" cy="212.5" r="2.2"/>
<circle cx="614.6" cy="212.3" r="2.2"/>
<circle cx="616.5" cy="212.8" r="2.2"/>
<circle cx="618.4" cy="212.6" r="2.2"/>
<circle cx="609.7" cy="214.3" r="2.2"/>
<circle cx="611.9" cy="213.9" r="2.2"/>
<circle cx="613.1" cy="214.4" r="2.2"/>
<circle cx="615.7" cy="214.2" r="2.2"/>
<circle cx="617.2" cy="214.4" r="2.2"/>
<circle cx="618.9" cy="214.0" r="2.2"/>
<circle cx="608.5" cy="215.9" r="2.2"/>
<circle cx="610.5" cy="215.6" r="2.2"/>
<circle cx="612.7" cy="216.2" r="2.2"/>
<circle cx="614.3" cy="216.0" r="2.2"/>
<circle cx="616.3" cy="216.1" r="2.2"/>
<circle cx="618.3" cy="215.7" r="2.2"/>
<circle cx="607.5" cy="217.1" r="2.2"/>
<circle cx="609.7" cy="217.4" r="2.2"/>
<circle cx="611.3" cy="217.4" r="2.2"/>
<circle cx="613.3" cy="217.7" r="2.2"/>
<circle cx="615.1" cy="217.9" r="2.2"/>
<circle cx="617.3" cy="217.6" r="2.2"/>
<circle cx="619.1" cy="217.8" r="2.2"/>
<circle cx="607.1" cy="219.2" r="2.2"/>
<circle cx="608.7" cy="219.3" r="2.2"/>
<circle cx="610.9" cy="219.1" r="2.2"/>
<circle cx="612.7" cy="219.5" r="2.2"/>
<circle cx="614.4" cy="218.9" r="2.2"/>
<circle cx="616.1" cy="219.3" r="2.2"/>
<circle cx="618.4" cy="219.5" r="2.2"/>
<circle cx="620.4" cy="219.0" r="2.2"/>
<circle cx="605.6" cy="220.6" r="2.2"/>
<circle cx="607.5" cy="221.0" r="2.2"/>
<circle cx="610.0" cy="221.1" r="2.2"/>
<circle cx="611.4" cy="221.1" r="2.2"/>
<circle cx="613.3" cy="220.8" r="2.2"/>
<circle cx="615.6" cy="220.5" r="2.2"/>
<circle cx="616.9" cy="221.1" r="2.2"/>
<circle cx="619.0" cy="220.7" r="2.2"/>
<circle cx="621.1" cy="221.0" r="2.2"/>
<circle cx="604.5" cy="222.3" r="2.2"/>
<circle cx="606.8" cy="222.5" r="2.2"/>
<circle cx="608.5" cy="222.5" r="2.2"/>
<circle cx="611.0" cy="222.4" r="2.2"/>
<circle cx="612.6" cy="222.2" r="2.2"/>
<circle cx="614.2" cy="222.6" r="2.2"/>
<circle cx="616.0" cy="222.8" r="2.2"/>
<circle cx="618.5" cy="222.1" r="2.2"/>
<circle cx="620.5" cy="222.4" r="2.2"/>
<circle cx="606.1" cy="224.3" r="2.2"/>
<circle cx="607.6" cy="224.3" r="2.2"/>
<circle cx="609.8" cy="224.4" r="2.2"/>
<circle cx="611.4" cy="224.3" r="2.2"/>
<circle cx="613.8" cy="224.3" r="2.2"/>
<circle cx="615.4" cy="223.8" r="2.2"/>
<circle cx="617.3" cy="224.0" r="2.2"/>
<circle cx="619.3" cy="224.3" r="2.2"/>
<circle cx="606.9" cy="225.5" r="2.2"/>
<circle cx="608.8" cy="225.9" r="2.2"/>
<circle cx="610.4" cy="226.1" r="2.2"/>
<circle cx="612.6" cy="225.5" r="2.2"/>
<circle cx="614.8" cy="225.5" r="2.2"/>
<circle cx="616.2" cy="226.0" r="2.2"/>
<circle cx="599.1" cy="219.5" r="2.2"/>
<circle cx="601.1" cy="219.4" r="2.2"/>
<circle cx="602.7" cy="219.2" r="2.2"/>
<circle cx="597.8" cy="221.3" r="2.2"/>
<circle cx="600.2" cy="221.1" r="2.2"/>
<circle cx="602.1" cy="221.0" r="2.2"/>
<circle cx="603.6" cy="221.0" r="2.2"/>
<circle cx="601.3" cy="222.4" r="2.2"/>
<circle cx="606" cy="198.5" r="2.2"/>
<circle cx="606.5" cy="201" r="2.2"/>
<circle cx="607" cy="203.5" r="2.2"/>
<circle cx="598.5" cy="206.5" r="2.2"/>
<circle cx="600.5" cy="220.5" r="2.2"/>
<circle cx="598.5" cy="220.5" r="2.2"/>
</g>
<polygon points="569.55,41.45 574.65,41.45 572.10,45.55" fill="none" stroke="#a020f0" stroke-width="0.85" stroke-linejoin="miter"/>
<polygon points="573.35,50.35 578.45,50.35 575.90,54.45" fill="none" stroke="#a020f0" stroke-width="0.85" stroke-linejoin="miter"/>
<polygon points="573.75,52.55 578.85,52.55 576.30,56.65" fill="none" stroke="#a020f0" stroke-width="0.85" stroke-linejoin="miter"/>
<polygon points="563.25,129.35 568.35,129.35 565.80,133.45" fill="none" stroke="#a020f0" stroke-width="0.85" stroke-linejoin="miter"/>
<polygon points="496.60,141.59 502.00,141.59 499.30,137.01" fill="#00ee00"/>
<circle cx="496.4" cy="155.3" r="2.3" fill="#ff0000"/>
<circle cx="499.0" cy="153.8" r="2.3" fill="#ff0000"/>
<circle cx="508.0" cy="154.7" r="1.73" fill="none" stroke="#cc33cc" stroke-width="0.95"/>
<circle cx="508.6" cy="161.5" r="1.73" fill="none" stroke="#cc33cc" stroke-width="0.95"/>
<circle cx="520.6" cy="162.7" r="1.73" fill="none" stroke="#cc33cc" stroke-width="0.95"/>
<polygon points="507.60,162.29 513.00,162.29 510.30,157.71" fill="#ffa500"/>
<polygon points="513.80,161.09 519.20,161.09 516.50,156.51" fill="#ffa500"/>
<polygon points="514.60,162.79 520.00,162.79 517.30,158.21" fill="#ffa500"/>
<rect x="502.08" y="159.38" width="3.45" height="3.45" fill="none" stroke="#00ee00" stroke-width="0.95"/>
<path d="M502.10,159.40L505.50,162.80M502.10,162.80L505.50,159.40" stroke="#00ee00" stroke-width="0.8" fill="none"/>
<path d="M484.60,170.30H490.20M487.40,167.50V173.10M485.38,168.28L489.42,172.32M485.38,172.32L489.42,168.28" stroke="#cc33cc" stroke-width="0.95" fill="none"/>
<path d="M481.10,180.50H486.70M483.90,177.70V183.30M481.88,178.48L485.92,182.52M481.88,182.52L485.92,178.48" stroke="#cc33cc" stroke-width="0.95" fill="none"/>
<rect x="481.48" y="174.07" width="3.65" height="3.65" fill="none" stroke="#c828be" stroke-width="0.95"/>
<path d="M481.50,174.10L485.10,177.70M481.50,177.70L485.10,174.10" stroke="#c828be" stroke-width="0.8" fill="none"/>
<rect x="576.78" y="160.77" width="3.65" height="3.65" fill="none" stroke="#c828be" stroke-width="0.95"/>
<path d="M576.80,160.80L580.40,164.40M576.80,164.40L580.40,160.80" stroke="#c828be" stroke-width="0.8" fill="none"/>
<rect x="481.78" y="174.17" width="3.05" height="3.05" fill="none" stroke="#ffa500" stroke-width="0.95"/>
<polygon points="490.25,202.25 495.35,202.25 492.80,198.15" fill="none" stroke="#0000ff" stroke-width="0.85" stroke-linejoin="miter"/>
<polygon points="488.45,208.25 493.55,208.25 491.00,204.15" fill="none" stroke="#0000ff" stroke-width="0.85" stroke-linejoin="miter"/>
<circle cx="498.8" cy="199.3" r="1.73" fill="none" stroke="#0000ff" stroke-width="0.95"/>
<path d="M495.00,204.20L499.00,208.20M495.00,208.20L499.00,204.20" stroke="#0000ff" stroke-width="0.95" fill="none"/>
<path d="M498.50,203.50L502.50,207.50M498.50,207.50L502.50,203.50" stroke="#0000ff" stroke-width="0.95" fill="none"/>
<circle cx="502.1" cy="204.4" r="2.1" fill="#0000ff"/>
<circle cx="499.3" cy="203.9" r="2.1" fill="#0000ff"/>
<circle cx="501.0" cy="205.8" r="2.1" fill="#0000ff"/>
<polygon points="516.60,190.30 519.60,193.30 516.60,196.30 513.60,193.30" fill="none" stroke="#c0403c" stroke-width="0.95"/>
<polygon points="519.50,195.00 522.50,198.00 519.50,201.00 516.50,198.00" fill="none" stroke="#c0403c" stroke-width="0.95"/>
<circle cx="525.5" cy="206.3" r="2.3" fill="#aa1c22"/>
<rect x="530.80" y="203.70" width="3.4" height="3.4" fill="#aa1c22"/>
<polygon points="531.40,199.60 533.20,201.40 531.40,203.20 529.60,201.40" fill="#8b1a1a"/>
<circle cx="541.8" cy="201.5" r="1.82" fill="none" stroke="#c0403c" stroke-width="0.95"/>
<path d="M540.40,201.50H543.20M541.80,200.10V202.90" stroke="#c0403c" stroke-width="0.6" fill="none"/>
<path d="M563.90,204.40H569.70M566.80,201.50V207.30" stroke="#c0403c" stroke-width="0.95" fill="none"/>
<rect x="577.68" y="171.57" width="3.05" height="3.05" fill="none" stroke="#ffa500" stroke-width="0.95"/>
<rect x="572.27" y="176.28" width="3.05" height="3.05" fill="none" stroke="#ffa500" stroke-width="0.95"/>
<rect x="575.68" y="175.67" width="3.05" height="3.05" fill="none" stroke="#ffa500" stroke-width="0.95"/>
<rect x="583.08" y="174.28" width="3.05" height="3.05" fill="none" stroke="#ffa500" stroke-width="0.95"/>
<rect x="580.38" y="176.97" width="3.05" height="3.05" fill="none" stroke="#ffa500" stroke-width="0.95"/>
<rect x="584.38" y="177.67" width="3.05" height="3.05" fill="none" stroke="#ffa500" stroke-width="0.95"/>
<rect x="589.18" y="179.47" width="3.05" height="3.05" fill="none" stroke="#ffa500" stroke-width="0.95"/>
<rect x="587.08" y="176.28" width="3.05" height="3.05" fill="none" stroke="#ffa500" stroke-width="0.95"/>
<rect x="587.48" y="177.47" width="3.05" height="3.05" fill="none" stroke="#ffa500" stroke-width="0.95"/>
<rect x="581.48" y="175.47" width="3.05" height="3.05" fill="none" stroke="#ffff00" stroke-width="0.95"/>
<path d="M581.40,177.00H584.60M583.00,175.40V178.60" stroke="#ffff00" stroke-width="0.55" fill="none"/>
<rect x="583.98" y="175.97" width="3.05" height="3.05" fill="none" stroke="#ffff00" stroke-width="0.95"/>
<path d="M583.90,177.50H587.10M585.50,175.90V179.10" stroke="#ffff00" stroke-width="0.55" fill="none"/>
<rect x="590.98" y="180.97" width="3.05" height="3.05" fill="none" stroke="#ffa500" stroke-width="0.95"/>
<rect x="592.98" y="182.47" width="3.05" height="3.05" fill="none" stroke="#ffa500" stroke-width="0.95"/>
<rect x="594.98" y="181.47" width="3.05" height="3.05" fill="none" stroke="#ffa500" stroke-width="0.95"/>
<rect x="596.98" y="183.97" width="3.05" height="3.05" fill="none" stroke="#ffa500" stroke-width="0.95"/>
<rect x="595.48" y="185.97" width="3.05" height="3.05" fill="none" stroke="#ffa500" stroke-width="0.95"/>
<rect x="592.48" y="185.47" width="3.05" height="3.05" fill="none" stroke="#ffa500" stroke-width="0.95"/>
<rect x="597.98" y="186.97" width="3.05" height="3.05" fill="none" stroke="#ffa500" stroke-width="0.95"/>
<rect x="590.98" y="184.47" width="3.05" height="3.05" fill="none" stroke="#ffa500" stroke-width="0.95"/>
<rect x="593.98" y="183.97" width="3.05" height="3.05" fill="none" stroke="#ffa500" stroke-width="0.95"/>
<rect x="595.98" y="187.47" width="3.05" height="3.05" fill="none" stroke="#ffa500" stroke-width="0.95"/>
<polygon points="601.80,183.30 604.80,186.30 601.80,189.30 598.80,186.30" fill="none" stroke="#ffff00" stroke-width="0.95"/>
<path d="M599.20,186.30H604.40M601.80,183.70V188.90" stroke="#ffff00" stroke-width="0.6" fill="none"/>
<polygon points="604.00,182.80 607.00,185.80 604.00,188.80 601.00,185.80" fill="none" stroke="#ffff00" stroke-width="0.95"/>
<path d="M601.40,185.80H606.60M604.00,183.20V188.40" stroke="#ffff00" stroke-width="0.6" fill="none"/>
<polygon points="607.00,188.00 610.00,191.00 607.00,194.00 604.00,191.00" fill="none" stroke="#ffff00" stroke-width="0.95"/>
<path d="M604.40,191.00H609.60M607.00,188.40V193.60" stroke="#ffff00" stroke-width="0.6" fill="none"/>
<polygon points="607.50,190.60 610.50,193.60 607.50,196.60 604.50,193.60" fill="none" stroke="#ffff00" stroke-width="0.95"/>
<path d="M604.90,193.60H610.10M607.50,191.00V196.20" stroke="#ffff00" stroke-width="0.6" fill="none"/>
<polygon points="606.00,193.30 609.00,196.30 606.00,199.30 603.00,196.30" fill="none" stroke="#ffff00" stroke-width="0.95"/>
<path d="M603.40,196.30H608.60M606.00,193.70V198.90" stroke="#ffff00" stroke-width="0.6" fill="none"/>
<text x="632.00" y="15.05" font-size="8.1" fill="#333" text-anchor="start" font-weight="normal" >Individuals</text>
<circle cx="636.6" cy="24.0" r="2.1" fill="#bebebe"/>
<text x="644.60" y="26.88" font-size="7.9" fill="#000" text-anchor="start" font-weight="normal" >Modern</text>
<circle cx="636.6" cy="33.4" r="2.3" fill="#aa1c22"/>
<text x="644.60" y="36.28" font-size="7.9" fill="#000" text-anchor="start" font-weight="normal" >ZlatyKun</text>
<rect x="634.90" y="41.10" width="3.4" height="3.4" fill="#aa1c22"/>
<text x="644.60" y="45.68" font-size="7.9" fill="#000" text-anchor="start" font-weight="normal" >UstIshim</text>
<circle cx="636.6" cy="52.7" r="2.1" fill="#0000ff"/>
<text x="644.60" y="55.58" font-size="7.9" fill="#000" text-anchor="start" font-weight="normal" >GoyetQ116-1</text>
<polygon points="633.90,64.19 639.30,64.19 636.60,59.60" fill="#ffa500"/>
<text x="644.60" y="64.78" font-size="7.9" fill="#000" text-anchor="start" font-weight="normal" >Botai</text>
<polygon points="636.60,70.00 638.40,71.80 636.60,73.60 634.80,71.80" fill="#8b1a1a"/>
<text x="644.60" y="74.68" font-size="7.9" fill="#000" text-anchor="start" font-weight="normal" >Oase</text>
<rect x="635.08" y="79.77" width="3.05" height="3.05" fill="none" stroke="#ffa500" stroke-width="0.95"/>
<text x="644.60" y="84.18" font-size="7.9" fill="#000" text-anchor="start" font-weight="normal" >Baikal</text>
<circle cx="636.6" cy="91.1" r="1.73" fill="none" stroke="#0000ff" stroke-width="0.95"/>
<text x="644.60" y="93.98" font-size="7.9" fill="#000" text-anchor="start" font-weight="normal" >Kostenki14</text>
<polygon points="634.05,102.45 639.15,102.45 636.60,98.35" fill="none" stroke="#0000ff" stroke-width="0.85" stroke-linejoin="miter"/>
<text x="644.60" y="103.28" font-size="7.9" fill="#000" text-anchor="start" font-weight="normal" >Vestonice</text>
<path d="M633.70,110.20H639.50M636.60,107.30V113.10" stroke="#c0403c" stroke-width="0.95" fill="none"/>
<text x="644.60" y="113.08" font-size="7.9" fill="#000" text-anchor="start" font-weight="normal" >Tianyuan</text>
<path d="M634.60,117.80L638.60,121.80M634.60,121.80L638.60,117.80" stroke="#0000ff" stroke-width="0.95" fill="none"/>
<text x="644.60" y="122.68" font-size="7.9" fill="#000" text-anchor="start" font-weight="normal" >Sunghir</text>
<polygon points="636.60,126.20 639.60,129.20 636.60,132.20 633.60,129.20" fill="none" stroke="#c0403c" stroke-width="0.95"/>
<text x="644.60" y="132.08" font-size="7.9" fill="#000" text-anchor="start" font-weight="normal" >Yana</text>
<polygon points="634.05,135.85 639.15,135.85 636.60,139.95" fill="none" stroke="#a020f0" stroke-width="0.85" stroke-linejoin="miter"/>
<text x="644.60" y="140.78" font-size="7.9" fill="#000" text-anchor="start" font-weight="normal" >ANA</text>
<rect x="634.78" y="145.07" width="3.65" height="3.65" fill="none" stroke="#c828be" stroke-width="0.95"/>
<path d="M634.80,145.10L638.40,148.70M634.80,148.70L638.40,145.10" stroke="#c828be" stroke-width="0.8" fill="none"/>
<text x="644.60" y="149.78" font-size="7.9" fill="#000" text-anchor="start" font-weight="normal" >Kolyma</text>
<path d="M633.80,156.50H639.40M636.60,153.70V159.30M634.58,154.48L638.62,158.52M634.58,158.52L638.62,154.48" stroke="#cc33cc" stroke-width="0.95" fill="none"/>
<text x="644.60" y="159.38" font-size="7.9" fill="#000" text-anchor="start" font-weight="normal" >Karelia</text>
<polygon points="636.60,163.00 639.60,166.00 636.60,169.00 633.60,166.00" fill="none" stroke="#ffff00" stroke-width="0.95"/>
<path d="M634.00,166.00H639.20M636.60,163.40V168.60" stroke="#ffff00" stroke-width="0.6" fill="none"/>
<text x="644.60" y="168.88" font-size="7.9" fill="#000" text-anchor="start" font-weight="normal" >DevilsCave</text>
<circle cx="636.6" cy="176.0" r="1.82" fill="none" stroke="#c0403c" stroke-width="0.95"/>
<path d="M635.20,176.00H638.00M636.60,174.60V177.40" stroke="#c0403c" stroke-width="0.6" fill="none"/>
<text x="644.60" y="178.88" font-size="7.9" fill="#000" text-anchor="start" font-weight="normal" >Salkhit</text>
<polygon points="636.60,182.40 639.11,186.75 634.09,186.75" fill="none" stroke="#b030d0" stroke-width="0.95"/>
<polygon points="636.60,188.20 639.11,183.85 634.09,183.85" fill="none" stroke="#b030d0" stroke-width="0.95"/>
<text x="644.60" y="188.18" font-size="7.9" fill="#000" text-anchor="start" font-weight="normal" >Russia_HG</text>
<rect x="635.08" y="193.47" width="3.05" height="3.05" fill="none" stroke="#ffff00" stroke-width="0.95"/>
<path d="M635.00,195.00H638.20M636.60,193.40V196.60" stroke="#ffff00" stroke-width="0.55" fill="none"/>
<text x="644.60" y="197.88" font-size="7.9" fill="#000" text-anchor="start" font-weight="normal" >UKY001</text>
<polygon points="633.90,206.69 639.30,206.69 636.60,202.11" fill="#00ee00"/>
<text x="644.60" y="207.28" font-size="7.9" fill="#000" text-anchor="start" font-weight="normal" >AG3</text>
<rect x="634.88" y="212.38" width="3.45" height="3.45" fill="none" stroke="#00ee00" stroke-width="0.95"/>
<path d="M634.90,212.40L638.30,215.80M634.90,215.80L638.30,212.40" stroke="#00ee00" stroke-width="0.8" fill="none"/>
<text x="644.60" y="216.98" font-size="7.9" fill="#000" text-anchor="start" font-weight="normal" >MA1</text>
<circle cx="636.6" cy="223.9" r="1.73" fill="none" stroke="#cc33cc" stroke-width="0.95"/>
<text x="644.60" y="226.78" font-size="7.9" fill="#000" text-anchor="start" font-weight="normal" >WSHG</text>
<circle cx="636.6" cy="233.6" r="2.3" fill="#ff0000"/>
<text x="644.60" y="236.48" font-size="7.9" fill="#000" text-anchor="start" font-weight="normal" >DCP1</text>
</svg>
</body></html>
